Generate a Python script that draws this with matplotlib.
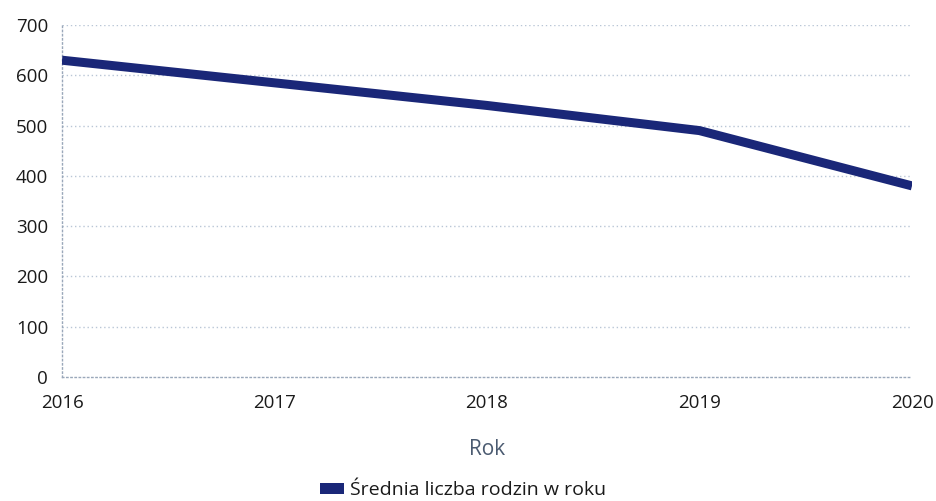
import matplotlib
matplotlib.use("Agg")
import matplotlib.pyplot as plt
from matplotlib.patches import Patch

plt.rcParams['font.family'] = ['Open Sans', 'DejaVu Sans']

years = [2016, 2017, 2018, 2019, 2020]
families = [630, 585, 540, 490, 380]
y_ticks = [0, 100, 200, 300, 400, 500, 600, 700]
series_label = "Średnia liczba rodzin w roku"
x_title = "Rok"

line_color = "#1a2778"
grid_color = "#b9c6d6"
text_color = "#1a1a1a"

fig = plt.figure(figsize=(9.37, 5.01), dpi=100)
ax = fig.add_axes([62 / 937, 1 - 377 / 501, (912 - 62) / 937, (377 - 25) / 501])

ax.plot(years, families, color=line_color, lw=6.5, solid_capstyle='butt',
        solid_joinstyle='round', zorder=3)

ax.set_xlim(years[0], years[-1])
ax.set_ylim(0, 700)
ax.set_xticks(years)
ax.set_yticks(y_ticks)
ax.tick_params(axis='both', length=0, labelsize=13.5, colors=text_color)
ax.tick_params(axis='y', pad=10)
ax.tick_params(axis='x', pad=12)

for v in y_ticks[1:]:
    ax.axhline(v, color=grid_color, lw=1, ls=(0, (1, 2)), zorder=1)

for side in ['top', 'right']:
    ax.spines[side].set_visible(False)
for side in ['left', 'bottom']:
    ax.spines[side].set_color("#9aa8ba")
    ax.spines[side].set_linestyle((0, (1, 2)))
    ax.spines[side].set_linewidth(1)

ax.set_xlabel(x_title, fontsize=15, color="#4a5a70", labelpad=20)

handle = Patch(facecolor=line_color, edgecolor='none')
fig.legend([handle], [series_label], loc='center', bbox_to_anchor=(463 / 937, 1 - 490 / 501),
           frameon=False, fontsize=14, handletextpad=0.3, handlelength=1.25,
           handleheight=0.5, labelcolor=text_color)

fig.savefig("out.png", dpi=100, facecolor='white')
